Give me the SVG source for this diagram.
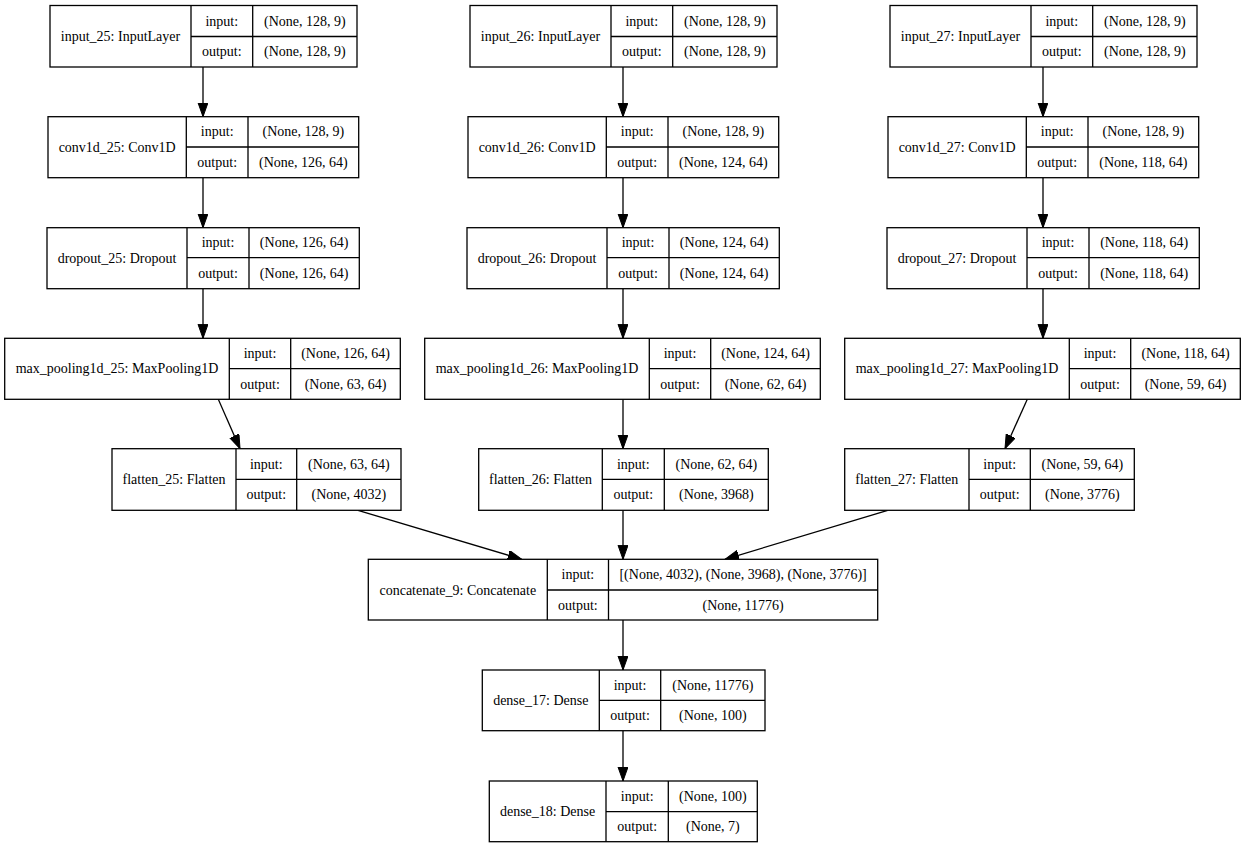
<svg xmlns="http://www.w3.org/2000/svg" width="1247" height="848" viewBox="0 0 1247 848">
<style>
.b{fill:#fff;stroke:#000;stroke-width:1.3}
.l{stroke:#000;stroke-width:1.3;fill:none}
text{font-family:"Liberation Serif","Times New Roman",serif;font-size:14px;fill:#000;text-anchor:middle}
.e{stroke:#000;stroke-width:1.3;fill:none;marker-end:url(#ah)}
</style>
<defs>
<marker id="ah" markerUnits="userSpaceOnUse" markerWidth="15" markerHeight="11" refX="14" refY="5" orient="auto" viewBox="0 0 15 11">
<path d="M0,0 L14,5 L0,10 z" fill="#000" stroke="#000" stroke-width="1"/>
</marker>
</defs>
<rect width="1247" height="848" fill="#fff"/>

<g id="connectors">
<line class="e" x1="203" y1="67" x2="203" y2="116.7"/>
<line class="e" x1="203" y1="177.7" x2="203" y2="227.7"/>
<line class="e" x1="203" y1="288.7" x2="203" y2="338.3"/>
<line class="e" x1="623" y1="67" x2="623" y2="116.7"/>
<line class="e" x1="623" y1="177.7" x2="623" y2="227.7"/>
<line class="e" x1="623" y1="288.7" x2="623" y2="338.3"/>
<line class="e" x1="1043" y1="67" x2="1043" y2="116.7"/>
<line class="e" x1="1043" y1="177.7" x2="1043" y2="227.7"/>
<line class="e" x1="1043" y1="288.7" x2="1043" y2="338.3"/>
<line class="e" x1="218.3" y1="399.3" x2="240" y2="448.7"/>
<line class="e" x1="623" y1="399.3" x2="623" y2="448.7"/>
<line class="e" x1="1027.3" y1="399.3" x2="1005" y2="448.7"/>
<line class="e" x1="358" y1="510.3" x2="521.7" y2="559.3"/>
<line class="e" x1="623" y1="510.3" x2="623" y2="559.3"/>
<line class="e" x1="887.7" y1="510.3" x2="725" y2="559.3"/>
<line class="e" x1="623" y1="620" x2="623" y2="670"/>
<line class="e" x1="623" y1="730.7" x2="623" y2="781"/>
</g>

<g id="input_25">
<rect class="b" x="50" y="5.5" width="307" height="61.5"/>
<path class="l" d="M191,5.5V67M252.7,5.5V67M191,36.5H357"/>
<text x="120.5" y="40.8">input_25: InputLayer</text>
<text x="221.8" y="25.5">input:</text><text x="221.8" y="56.3">output:</text>
<text x="304.8" y="25.5">(None, 128, 9)</text><text x="304.8" y="56.3">(None, 128, 9)</text>
</g>
<g id="conv1d_25">
<rect class="b" x="48" y="116.7" width="310.7" height="61"/>
<path class="l" d="M186.3,116.7V177.7M248,116.7V177.7M186.3,147H358.7"/>
<text x="117.2" y="151.6">conv1d_25: Conv1D</text>
<text x="217.2" y="136.4">input:</text><text x="217.2" y="166.9">output:</text>
<text x="303.3" y="136.4">(None, 128, 9)</text><text x="303.3" y="166.9">(None, 126, 64)</text>
</g>
<g id="dropout_25">
<rect class="b" x="47" y="227.7" width="312.3" height="61"/>
<path class="l" d="M187,227.7V288.7M249,227.7V288.7M187,257.7H359.3"/>
<text x="117" y="262.5">dropout_25: Dropout</text>
<text x="218" y="247.2">input:</text><text x="218" y="277.7">output:</text>
<text x="304.2" y="247.2">(None, 126, 64)</text><text x="304.2" y="277.7">(None, 126, 64)</text>
</g>
<g id="max_pooling1d_25">
<rect class="b" x="4.7" y="338.3" width="395.6" height="61"/>
<path class="l" d="M229.3,338.3V399.3M290.7,338.3V399.3M229.3,368.7H400.3"/>
<text x="117" y="373.3">max_pooling1d_25: MaxPooling1D</text>
<text x="260" y="358">input:</text><text x="260" y="388.5">output:</text>
<text x="345.5" y="358">(None, 126, 64)</text><text x="345.5" y="388.5">(None, 63, 64)</text>
</g>
<g id="flatten_25">
<rect class="b" x="112" y="448.7" width="289" height="61.6"/>
<path class="l" d="M236,448.7V510.3M296.7,448.7V510.3M236,479.3H401"/>
<text x="174" y="484">flatten_25: Flatten</text>
<text x="266.3" y="468.5">input:</text><text x="266.3" y="499.3">output:</text>
<text x="348.8" y="468.5">(None, 63, 64)</text><text x="348.8" y="499.3">(None, 4032)</text>
</g>

<g id="input_26">
<rect class="b" x="470" y="5.5" width="307" height="61.5"/>
<path class="l" d="M611,5.5V67M672.7,5.5V67M611,36.5H777"/>
<text x="540.5" y="40.8">input_26: InputLayer</text>
<text x="641.8" y="25.5">input:</text><text x="641.8" y="56.3">output:</text>
<text x="724.8" y="25.5">(None, 128, 9)</text><text x="724.8" y="56.3">(None, 128, 9)</text>
</g>
<g id="conv1d_26">
<rect class="b" x="468" y="116.7" width="310.7" height="61"/>
<path class="l" d="M606.3,116.7V177.7M668,116.7V177.7M606.3,147H778.7"/>
<text x="537.2" y="151.6">conv1d_26: Conv1D</text>
<text x="637.2" y="136.4">input:</text><text x="637.2" y="166.9">output:</text>
<text x="723.3" y="136.4">(None, 128, 9)</text><text x="723.3" y="166.9">(None, 124, 64)</text>
</g>
<g id="dropout_26">
<rect class="b" x="467" y="227.7" width="312.3" height="61"/>
<path class="l" d="M607,227.7V288.7M669,227.7V288.7M607,257.7H779.3"/>
<text x="537" y="262.5">dropout_26: Dropout</text>
<text x="638" y="247.2">input:</text><text x="638" y="277.7">output:</text>
<text x="724.2" y="247.2">(None, 124, 64)</text><text x="724.2" y="277.7">(None, 124, 64)</text>
</g>
<g id="max_pooling1d_26">
<rect class="b" x="424.7" y="338.3" width="395.6" height="61"/>
<path class="l" d="M649.3,338.3V399.3M710.7,338.3V399.3M649.3,368.7H820.3"/>
<text x="537" y="373.3">max_pooling1d_26: MaxPooling1D</text>
<text x="680" y="358">input:</text><text x="680" y="388.5">output:</text>
<text x="765.5" y="358">(None, 124, 64)</text><text x="765.5" y="388.5">(None, 62, 64)</text>
</g>
<g id="flatten_26">
<rect class="b" x="478.7" y="448.7" width="289.6" height="61.6"/>
<path class="l" d="M602.3,448.7V510.3M664.3,448.7V510.3M602.3,479.3H768.3"/>
<text x="540.5" y="484">flatten_26: Flatten</text>
<text x="633.3" y="468.5">input:</text><text x="633.3" y="499.3">output:</text>
<text x="716.3" y="468.5">(None, 62, 64)</text><text x="716.3" y="499.3">(None, 3968)</text>
</g>

<g id="input_27">
<rect class="b" x="890" y="5.5" width="307" height="61.5"/>
<path class="l" d="M1031,5.5V67M1092.7,5.5V67M1031,36.5H1197"/>
<text x="960.5" y="40.8">input_27: InputLayer</text>
<text x="1061.8" y="25.5">input:</text><text x="1061.8" y="56.3">output:</text>
<text x="1144.8" y="25.5">(None, 128, 9)</text><text x="1144.8" y="56.3">(None, 128, 9)</text>
</g>
<g id="conv1d_27">
<rect class="b" x="888" y="116.7" width="310.7" height="61"/>
<path class="l" d="M1026.3,116.7V177.7M1088,116.7V177.7M1026.3,147H1198.7"/>
<text x="957.2" y="151.6">conv1d_27: Conv1D</text>
<text x="1057.2" y="136.4">input:</text><text x="1057.2" y="166.9">output:</text>
<text x="1143.3" y="136.4">(None, 128, 9)</text><text x="1143.3" y="166.9">(None, 118, 64)</text>
</g>
<g id="dropout_27">
<rect class="b" x="887" y="227.7" width="312.3" height="61"/>
<path class="l" d="M1027,227.7V288.7M1089,227.7V288.7M1027,257.7H1199.3"/>
<text x="957" y="262.5">dropout_27: Dropout</text>
<text x="1058" y="247.2">input:</text><text x="1058" y="277.7">output:</text>
<text x="1144.2" y="247.2">(None, 118, 64)</text><text x="1144.2" y="277.7">(None, 118, 64)</text>
</g>
<g id="max_pooling1d_27">
<rect class="b" x="844.7" y="338.3" width="395.6" height="61"/>
<path class="l" d="M1069.3,338.3V399.3M1130.7,338.3V399.3M1069.3,368.7H1240.3"/>
<text x="957" y="373.3">max_pooling1d_27: MaxPooling1D</text>
<text x="1100" y="358">input:</text><text x="1100" y="388.5">output:</text>
<text x="1185.5" y="358">(None, 118, 64)</text><text x="1185.5" y="388.5">(None, 59, 64)</text>
</g>
<g id="flatten_27">
<rect class="b" x="844.7" y="448.7" width="289.6" height="61.6"/>
<path class="l" d="M969,448.7V510.3M1030.3,448.7V510.3M969,479.3H1134.3"/>
<text x="906.8" y="484">flatten_27: Flatten</text>
<text x="999.7" y="468.5">input:</text><text x="999.7" y="499.3">output:</text>
<text x="1082.3" y="468.5">(None, 59, 64)</text><text x="1082.3" y="499.3">(None, 3776)</text>
</g>

<g id="concatenate_9">
<rect class="b" x="368.3" y="559.3" width="509.4" height="60.7"/>
<path class="l" d="M547.3,559.3V620M608.5,559.3V620M547.3,590H877.7"/>
<text x="457.8" y="594.5">concatenate_9: Concatenate</text>
<text x="577.9" y="579.2">input:</text><text x="577.9" y="609.6">output:</text>
<text x="743.1" y="579.2">[(None, 4032), (None, 3968), (None, 3776)]</text><text x="743.1" y="609.6">(None, 11776)</text>
</g>
<g id="dense_17">
<rect class="b" x="482.3" y="670" width="282.7" height="60.7"/>
<path class="l" d="M599.3,670V730.7M660.7,670V730.7M599.3,700.3H765"/>
<text x="540.8" y="705">dense_17: Dense</text>
<text x="630" y="689.7">input:</text><text x="630" y="720">output:</text>
<text x="712.8" y="689.7">(None, 11776)</text><text x="712.8" y="720">(None, 100)</text>
</g>
<g id="dense_18">
<rect class="b" x="489.3" y="781" width="268" height="60.7"/>
<path class="l" d="M606,781V841.7M668.3,781V841.7M606,811.7H757.3"/>
<text x="547.6" y="816.3">dense_18: Dense</text>
<text x="637.2" y="800.9">input:</text><text x="637.2" y="831.2">output:</text>
<text x="712.8" y="800.9">(None, 100)</text><text x="712.8" y="831.2">(None, 7)</text>
</g>
</svg>
